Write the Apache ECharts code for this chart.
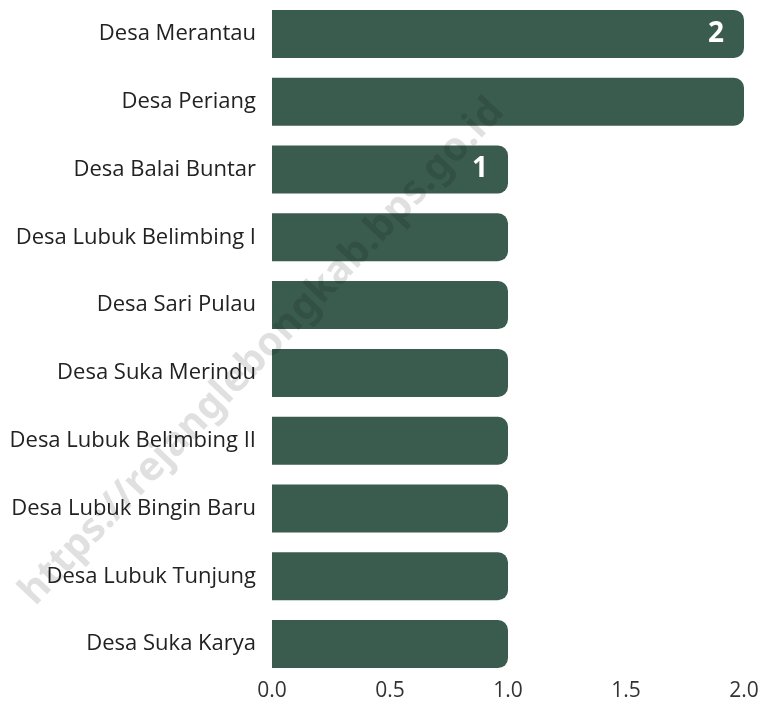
<!DOCTYPE html>
<html>
<head>
<meta charset="utf-8">
<script src="https://cdn.jsdelivr.net/npm/echarts@6/dist/echarts.min.js"></script>
<style>
html,body{margin:0;padding:0;background:#fff;}
#chart{width:765px;height:702px;}
</style>
</head>
<body>
<div id="chart"></div>
<script>
const categories = [
  "Desa Merantau",
  "Desa Periang",
  "Desa Balai Buntar",
  "Desa Lubuk Belimbing I",
  "Desa Sari Pulau",
  "Desa Suka Merindu",
  "Desa Lubuk Belimbing II",
  "Desa Lubuk Bingin Baru",
  "Desa Lubuk Tunjung",
  "Desa Suka Karya"
];
const values = [2, 2, 1, 1, 1, 1, 1, 1, 1, 1];
const labelledIndices = [0, 2];
const xTicks = [0, 0.5, 1, 1.5, 2];
const watermark = "https://rejanglebongkab.bps.go.id";

const chart = echarts.init(document.getElementById('chart'));
const data = values.map((v, i) => ({
  value: v,
  label: { show: labelledIndices.includes(i) }
}));
chart.setOption({
  animation: false,
  grid: { left: 272, right: 21, top: -4, bottom: 24, containLabel: false },
  xAxis: {
    type: 'value',
    min: xTicks[0],
    max: xTicks[xTicks.length - 1],
    interval: 0.5,
    axisLine: { show: false },
    axisTick: { show: false },
    splitLine: { show: false },
    axisLabel: {
      margin: 3,
      fontFamily: 'Open Sans',
      fontSize: 21,
      color: '#333',
      formatter: v => v.toFixed(1)
    }
  },
  yAxis: {
    type: 'category',
    inverse: true,
    data: categories,
    axisLine: { show: false },
    axisTick: { show: false },
    axisLabel: {
      margin: 16,
      fontFamily: 'Open Sans',
      fontSize: 22,
      color: '#222'
    }
  },
  series: [{
    type: 'bar',
    data: data,
    barWidth: 48,
    itemStyle: { color: '#3a5c4e', borderRadius: [0, 10, 10, 0] },
    label: {
      position: 'insideRight',
      distance: 20,
      color: '#fff',
      fontFamily: 'Noto Sans',
      fontWeight: 'bold',
      fontSize: 28
    }
  }],
  graphic: [{
    type: 'text',
    x: 262,
    y: 352,
    rotation: 0.81,
    z: 100,
    silent: true,
    style: {
      text: watermark,
      fontFamily: 'Noto Sans',
      fontWeight: 'bold',
      fontSize: 40,
      fill: 'rgba(0,0,0,0.12)',
      align: 'center',
      verticalAlign: 'middle'
    }
  }]
});
</script>
</body>
</html>
